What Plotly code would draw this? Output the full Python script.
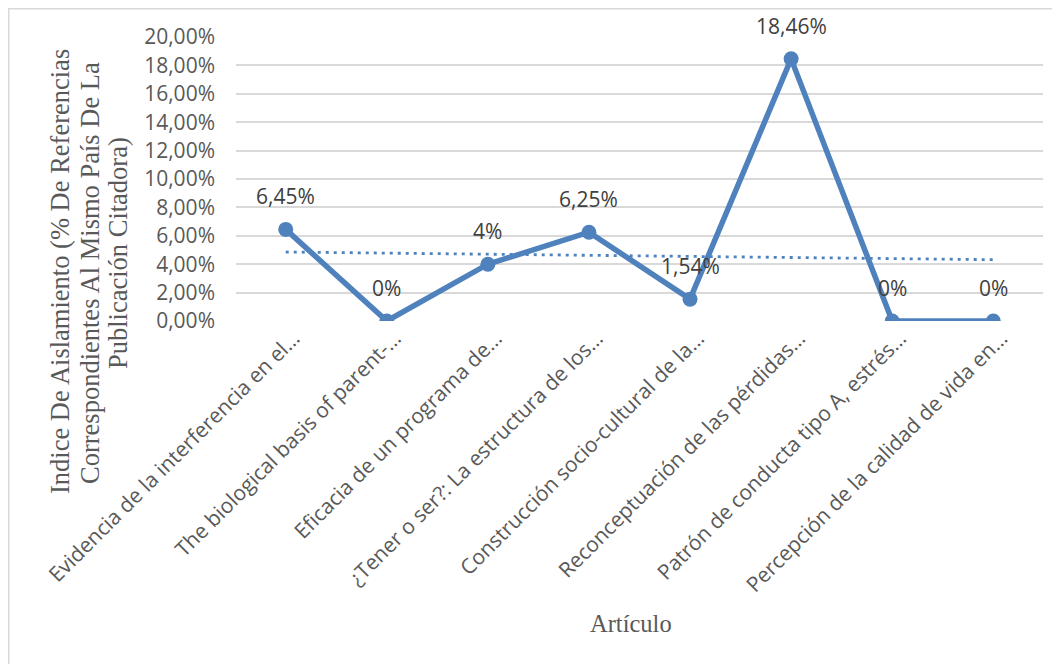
import numpy as np
import plotly.graph_objects as go

categories = [
    "Evidencia de la interferencia en el…",
    "The biological basis of parent-…",
    "Eficacia de un programa de…",
    "¿Tener o ser?: La estructura de los…",
    "Construcción socio-cultural de la…",
    "Reconceptuación de las pérdidas…",
    "Patrón de conducta tipo A, estrés…",
    "Percepción de la calidad de vida en…",
]
values = [6.45, 0, 4, 6.25, 1.54, 18.46, 0, 0]
value_labels = ["6,45%", "0%", "4%", "6,25%", "1,54%", "18,46%", "0%", "0%"]
tick_vals = [0, 2, 4, 6, 8, 10, 12, 14, 16, 18, 20]
tick_text = ["0,00%", "2,00%", "4,00%", "6,00%", "8,00%", "10,00%",
             "12,00%", "14,00%", "16,00%", "18,00%", "20,00%"]
y_title_lines = ["Indice De Aislamiento (% De Referencias",
                 "Correspondientes Al Mismo País De La",
                 "Publicación Citadora)"]
x_title = "Artículo"

BLUE = "#4F81BD"
GRID = "#D9D9D9"
TXT = "#595959"

# linear trendline (as in the spreadsheet)
idx = np.arange(1, len(values) + 1)
slope, intercept = np.polyfit(idx, values, 1)
trend = slope * idx + intercept

fig = go.Figure()
fig.add_trace(go.Scatter(
    x=categories, y=values, mode="lines+markers",
    line=dict(color=BLUE, width=5.5),
    marker=dict(color=BLUE, size=15),
    hoverinfo="skip", showlegend=False,
))
fig.add_trace(go.Scatter(
    x=categories, y=trend, mode="lines",
    line=dict(color=BLUE, width=2.8, dash="3px,5px"),
    hoverinfo="skip", showlegend=False,
))

annotations = []
for c, v, t in zip(categories, values, value_labels):
    annotations.append(dict(
        x=c, y=v, xref="x", yref="y", text=t, showarrow=False,
        yshift=33, font=dict(family="Open Sans", size=21, color="#404040"),
    ))

title_pos = [(-0.2181, 0.1761), (-0.1809, 0.169), (-0.1462, 0.2394)]
for line, (px, py) in zip(y_title_lines, title_pos):
    annotations.append(dict(
        x=px, y=py, xref="paper", yref="paper", text=line,
        textangle=-90, showarrow=False, xanchor="center", yanchor="middle",
        font=dict(family="Liberation Serif", size=26.5, color=TXT),
    ))
annotations.append(dict(
    x=0.4895, y=-1.0634, xref="paper", yref="paper", text=x_title,
    showarrow=False, xanchor="center", yanchor="middle",
    font=dict(family="Liberation Serif", size=24.5, color=TXT),
))

fig.update_layout(
    width=1060, height=664,
    margin=dict(l=228, r=25, t=29, b=351),
    paper_bgcolor="white", plot_bgcolor="white",
    annotations=annotations,
    xaxis=dict(
        type="category", showgrid=False, zeroline=False, showline=False,
        tickangle=-45, tickfont=dict(family="Open Sans", size=21, color=TXT),
        ticks="", automargin=False, ticklabelshift=8,
    ),
    yaxis=dict(
        range=[0, 20], tickvals=tick_vals, ticktext=tick_text,
        showgrid=True, gridcolor=GRID, gridwidth=1.5,
        zeroline=False, showline=False, ticks="",
        tickfont=dict(family="Open Sans", size=21, color=TXT),
        ticklabelstandoff=20, automargin=False,
    ),
    shapes=[
        dict(type="path", xref="paper", yref="paper",
             path="M -0.2819,-1.3 L -0.2819,1.1004 L 1.05,1.1004",
             line=dict(color=GRID, width=2)),
    ],
)

fig.write_html("out.html")
